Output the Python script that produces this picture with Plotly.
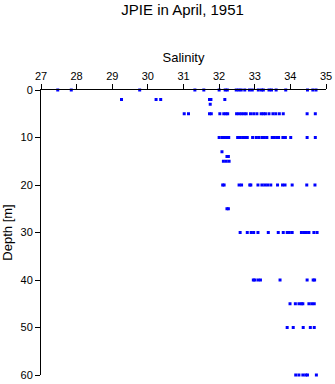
import plotly.graph_objects as go

# Salinity readings at each sampled depth (m)
sal_d0 = [27.47, 27.85, 29.77, 31.32, 31.57, 32.0, 32.17, 32.23, 32.48, 32.55, 32.62, 32.72,
          32.85, 32.93, 33.1, 33.19, 33.24, 33.4, 33.47, 33.6, 33.87, 34.48, 34.63, 34.72]
sal_d2 = [29.26, 30.23, 30.36, 31.73, 31.77, 32.16]
sal_d3 = [31.75]
sal_d5 = [31.02, 31.14, 31.73, 31.78, 32.02, 32.13, 32.19, 32.24, 32.49, 32.56, 32.63, 32.7, 32.76,
          32.88, 32.97, 33.06, 33.18, 33.24, 33.3, 33.4, 33.51, 33.59, 33.69, 33.8, 34.47, 34.7]
sal_d10 = [32.0, 32.08, 32.15, 32.22, 32.27, 32.52, 32.59, 32.66, 32.73, 32.79, 32.94, 33.04, 33.11,
           33.2, 33.27, 33.34, 33.49, 33.55, 33.62, 33.67, 33.79, 33.86, 34.01, 34.47, 34.7]
sal_d13 = [32.08]
sal_d14 = [32.22, 32.26]
sal_d15 = [32.12, 32.2, 32.28]
sal_d20 = [32.1, 32.14, 32.56, 32.63, 32.86, 32.89, 33.09, 33.2, 33.28, 33.36, 33.45, 33.64,
           33.78, 33.85, 34.05, 34.46, 34.69]
sal_d25 = [32.22, 32.26]
sal_d30 = [32.59, 32.79, 32.9, 32.97, 33.09, 33.38, 33.66, 33.8, 33.91, 33.97, 34.05, 34.31, 34.38,
           34.45, 34.52, 34.66, 34.75]
sal_d40 = [32.96, 33.0, 33.09, 33.16, 33.71, 34.47, 34.64, 34.68]
sal_d45 = [33.99, 34.14, 34.24, 34.31, 34.35, 34.52, 34.6, 34.67]
sal_d50 = [33.91, 34.08, 34.36, 34.56, 34.67]
sal_d60 = [34.15, 34.24, 34.35, 34.43, 34.48, 34.73]

depth_levels = [0, 2, 3, 5, 10, 13, 14, 15, 20, 25, 30, 40, 45, 50, 60]
sal_by_level = [sal_d0, sal_d2, sal_d3, sal_d5, sal_d10, sal_d13, sal_d14, sal_d15, sal_d20,
                sal_d25, sal_d30, sal_d40, sal_d45, sal_d50, sal_d60]

x_ticks = [27, 28, 29, 30, 31, 32, 33, 34, 35]
y_ticks = [0, 10, 20, 30, 40, 50, 60]

xs, ys = [], []
for d, sal in zip(depth_levels, sal_by_level):
    xs.extend(sal)
    ys.extend([d] * len(sal))

fig = go.Figure(go.Scatter(
    x=xs, y=ys, mode="markers",
    marker=dict(symbol="square", size=3, color="#0000ff", line=dict(width=0)),
    cliponaxis=False, hoverinfo="x+y",
))

font = "Liberation Sans, Arial, sans-serif"
fig.update_layout(
    width=335, height=384,
    margin=dict(l=41, r=9, t=90, b=9, autoexpand=False),
    paper_bgcolor="white", plot_bgcolor="white",
    showlegend=False,
    font=dict(family=font, color="black", size=11),
    title=dict(text="JPIE in April, 1951", x=0.545, xanchor="center", y=0.975, yanchor="middle",
               font=dict(family=font, size=15, color="black")),
    xaxis=dict(side="top", range=[27, 35], tickvals=x_ticks, ticks="outside", ticklen=5,
               tickwidth=1, tickcolor="black", showline=True, linecolor="black", linewidth=1,
               showgrid=False, zeroline=False, automargin=False,
               title=dict(text="Salinity", standoff=4), tickfont=dict(size=11)),
    yaxis=dict(range=[60, 0], tickvals=y_ticks, ticks="outside", ticklen=5, tickwidth=1,
               tickcolor="black", showline=True, linecolor="black", linewidth=1,
               showgrid=False, zeroline=False, automargin=False,
               title=dict(text="Depth [m]", standoff=4), tickfont=dict(size=11)),
)

fig.write_html("out.html")
